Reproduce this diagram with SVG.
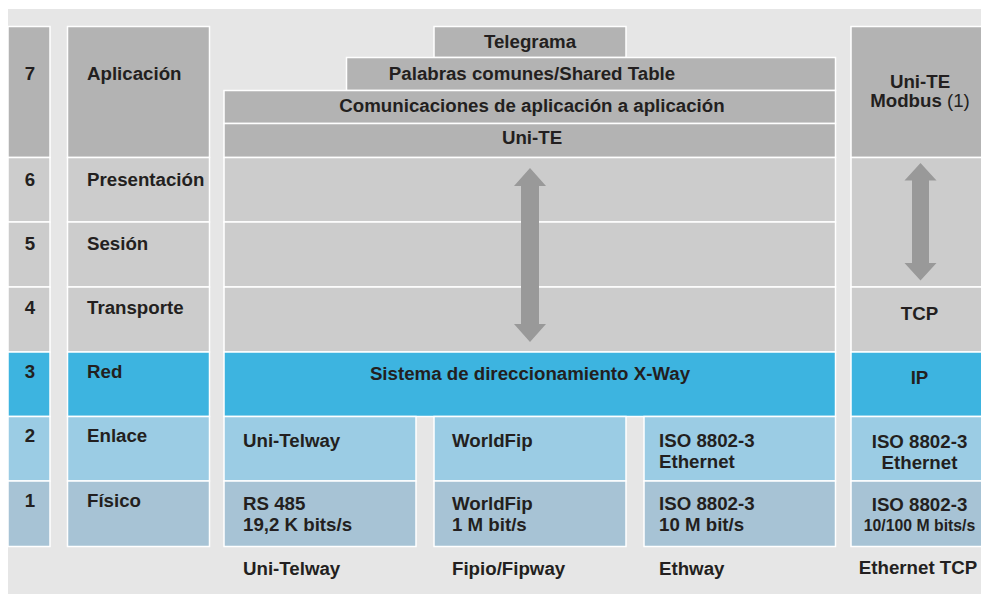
<svg xmlns="http://www.w3.org/2000/svg" width="981" height="594" viewBox="0 0 981 594">
<style>
.c{stroke:#ffffff;stroke-width:1.5}
.d{fill:#b3b3b3}
.l{fill:#cccccc}
.b{fill:#3db4e0}
.lb{fill:#9bcce4}
.sb{fill:#a7c3d5}
text{font-family:"Liberation Sans",Arial,sans-serif;font-weight:bold;font-size:18.7px;fill:#231f20}
.m{text-anchor:middle}
.r{font-weight:normal}
.s{font-size:15.8px}
.ar{fill:#999999}
</style>
<rect x="8" y="9" width="973" height="585" fill="#e6e6e6"/>

<g id="col-numbers">
<rect class="c d" x="8" y="26.5" width="42" height="131"/>
<rect class="c l" x="8" y="157.5" width="42" height="64.5"/>
<rect class="c l" x="8" y="222" width="42" height="65"/>
<rect class="c l" x="8" y="287" width="42" height="65"/>
<rect class="c b" x="8" y="352" width="42" height="64.5"/>
<rect class="c lb" x="8" y="416.5" width="42" height="64.5"/>
<rect class="c sb" x="8" y="481" width="42" height="65.5"/>
<text class="m" x="30" y="80">7</text>
<text class="m" x="30" y="186">6</text>
<text class="m" x="30" y="250">5</text>
<text class="m" x="30" y="314">4</text>
<text class="m" x="30" y="378">3</text>
<text class="m" x="30" y="442">2</text>
<text class="m" x="30" y="507">1</text>
</g>

<g id="col-layers">
<rect class="c d" x="67.5" y="26.5" width="142" height="131"/>
<rect class="c l" x="67.5" y="157.5" width="142" height="64.5"/>
<rect class="c l" x="67.5" y="222" width="142" height="65"/>
<rect class="c l" x="67.5" y="287" width="142" height="65"/>
<rect class="c b" x="67.5" y="352" width="142" height="64.5"/>
<rect class="c lb" x="67.5" y="416.5" width="142" height="64.5"/>
<rect class="c sb" x="67.5" y="481" width="142" height="65.5"/>
<text x="87" y="80">Aplicación</text>
<text x="87" y="186">Presentación</text>
<text x="87" y="250">Sesión</text>
<text x="87" y="314">Transporte</text>
<text x="87" y="378">Red</text>
<text x="87" y="442">Enlace</text>
<text x="87" y="507">Físico</text>
</g>

<g id="telegrama">
<rect class="c d" x="434" y="26.5" width="192" height="31"/>
<text class="m" x="530" y="48">Telegrama</text>
</g>
<g id="palabras">
<rect class="c d" x="346.5" y="57.5" width="489" height="33"/>
<text class="m" x="532" y="80">Palabras comunes/Shared Table</text>
</g>
<g id="comunicaciones">
<rect class="c d" x="224" y="90.5" width="611.5" height="33"/>
<text class="m" x="532" y="112">Comunicaciones de aplicación a aplicación</text>
</g>
<g id="unite">
<rect class="c d" x="224" y="123.5" width="611.5" height="34"/>
<text class="m" x="532" y="144">Uni-TE</text>
</g>
<g id="main-upper">
<rect class="c l" x="224" y="157.5" width="611.5" height="64.5"/>
<rect class="c l" x="224" y="222" width="611.5" height="65"/>
<rect class="c l" x="224" y="287" width="611.5" height="65"/>
</g>
<g id="xway">
<rect class="c b" x="224" y="352" width="611.5" height="64.5"/>
<text class="m" x="530" y="380">Sistema de direccionamiento X-Way</text>
</g>

<g id="unitelway">
<rect class="c lb" x="224" y="416.5" width="192" height="64.5"/>
<rect class="c sb" x="224" y="481" width="192" height="65.5"/>
<text x="243" y="447">Uni-Telway</text>
<text x="243" y="510">RS 485</text>
<text x="243" y="531">19,2 K bits/s</text>
<text x="243" y="575">Uni-Telway</text>
</g>
<g id="worldfip">
<rect class="c lb" x="434" y="416.5" width="192" height="64.5"/>
<rect class="c sb" x="434" y="481" width="192" height="65.5"/>
<text x="452" y="447">WorldFip</text>
<text x="452" y="510">WorldFip</text>
<text x="452" y="531">1 M bit/s</text>
<text x="452" y="575">Fipio/Fipway</text>
</g>
<g id="ethway">
<rect class="c lb" x="644" y="416.5" width="191.5" height="64.5"/>
<rect class="c sb" x="644" y="481" width="191.5" height="65.5"/>
<text x="659" y="447">ISO 8802-3</text>
<text x="659" y="468">Ethernet</text>
<text x="659" y="510">ISO 8802-3</text>
<text x="659" y="531">10 M bit/s</text>
<text x="659" y="575">Ethway</text>
</g>

<g id="ethernet-tcp">
<rect class="c d" x="851" y="26.5" width="131" height="131"/>
<rect class="c l" x="851" y="157.5" width="131" height="129.5"/>
<rect class="c l" x="851" y="287" width="131" height="65"/>
<rect class="c b" x="851" y="352" width="131" height="64.5"/>
<rect class="c lb" x="851" y="416.5" width="131" height="64.5"/>
<rect class="c sb" x="851" y="481" width="131" height="65.5"/>
<text class="m" x="920" y="88">Uni-TE</text>
<text class="m" x="920" y="107">Modbus<tspan class="r"> (1)</tspan></text>
<text class="m" x="919.5" y="320">TCP</text>
<text class="m" x="919.5" y="384">IP</text>
<text class="m" x="919.5" y="448">ISO 8802-3</text>
<text class="m" x="919.5" y="469">Ethernet</text>
<text class="m" x="919.5" y="511">ISO 8802-3</text>
<text class="m s" x="919.5" y="531">10/100 M bits/s</text>
<text class="m" x="918" y="574">Ethernet TCP</text>
</g>

<g id="connectors">
<polygon class="ar" points="530,168 546,186 539,186 539,324 546,324 530,342 514,324 521,324 521,186 514,186"/>
<polygon class="ar" points="920.5,163 936.5,180.5 929,180.5 929,263 936.5,263 920.5,280.5 904.5,263 912,263 912,180.5 904.5,180.5"/>
</g>
</svg>
